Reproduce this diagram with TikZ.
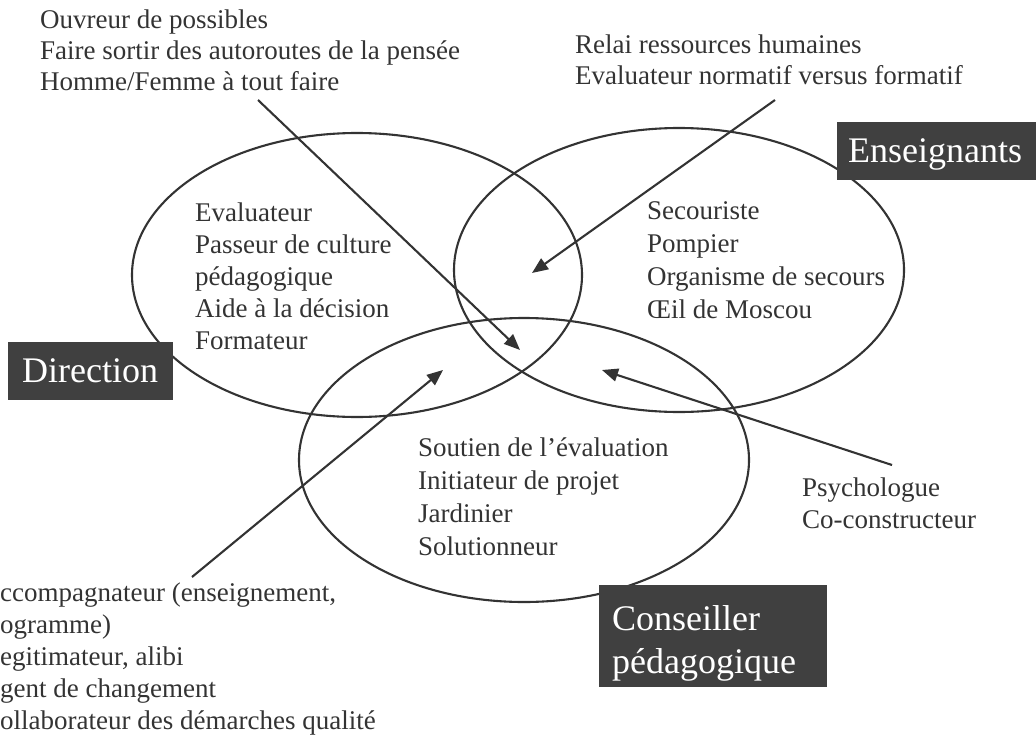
\documentclass[tikz,border=0pt]{standalone}
\usepackage{fontspec}
\setmainfont{Liberation Serif}
\usetikzlibrary{arrows.meta,shapes.geometric}
\definecolor{ink}{HTML}{333333}
\definecolor{boxfill}{HTML}{404040}
\begin{document}
\begin{tikzpicture}[x=1pt,y=-1pt,
  venn/.style={draw=ink, line width=2.1pt, ellipse, minimum width=450pt, minimum height=284pt, inner sep=0pt},
  body/.style={font=\fontsize{27}{#1}\selectfont, text=ink, align=left, inner sep=0pt, anchor=base west},
  body/.default=32,
  tag/.style={fill=boxfill, text=white, font=\fontsize{36}{43}\selectfont, align=left, anchor=north west, inner ysep=0pt},
  arr/.style={draw=ink, line width=2.1pt, -{Triangle[length=16pt,width=13pt]}}]
\useasboundingbox (0,0) rectangle (1036,747);
% sets
\node[venn] (dirset) at (357,275) {};
\node[venn] (ensset) at (679,270) {};
\node[venn] (cpset) at (524,460) {};
% texts (anchor = baseline of the last line)
\node[body=31] (ouvreur) at (40,90) {Ouvreur de possibles\\Faire sortir des autoroutes de la pensée\\Homme/Femme à tout faire};
\node[body=31] (relai) at (575,84) {Relai ressources humaines\\Evaluateur normatif versus formatif};
\node[body] (dirroles) at (195,349) {Evaluateur\\Passeur de culture\\pédagogique\\Aide à la décision\\Formateur};
\node[body=33] (ensroles) at (647,318) {Secouriste\\Pompier\\Organisme de secours\\Œil de Moscou};
\node[body=33] (cproles) at (418,555) {Soutien de l’évaluation\\Initiateur de projet\\Jardinier\\Solutionneur};
\node[body] (psy) at (802,528) {Psychologue\\Co-constructeur};
\node[body] (acc) at (0,729) {ccompagnateur (enseignement,\\ogramme)\\egitimateur, alibi\\gent de changement\\ollaborateur des démarches qualité};
% tags
\node[tag, minimum width=165pt, minimum height=58pt, inner xsep=14pt, text width=137pt] (direction) at (8,342) {Direction};
\node[tag, minimum width=199pt, minimum height=58pt, inner xsep=11pt, text width=177pt] (enseignants) at (837,122) {\rule{0pt}{30pt}Enseignants};
\node[tag, minimum width=228pt, minimum height=102pt, inner xsep=13pt, text width=202pt] (conseiller) at (599,585) {\rule{0pt}{40pt}Conseiller\\pédagogique};
% arrows
\coordinate (os) at (258,100); \coordinate (oe) at (520,350);
\coordinate (rs) at (775,100); \coordinate (re) at (532,273);
\coordinate (as) at (192,577); \coordinate (ae) at (443,370);
\coordinate (ps) at (892,465); \coordinate (pe) at (602,370);
\draw[arr] (os) -- (oe);
\draw[arr] (rs) -- (re);
\draw[arr] (as) -- (ae);
\draw[arr] (ps) -- (pe);
\end{tikzpicture}
\end{document}
